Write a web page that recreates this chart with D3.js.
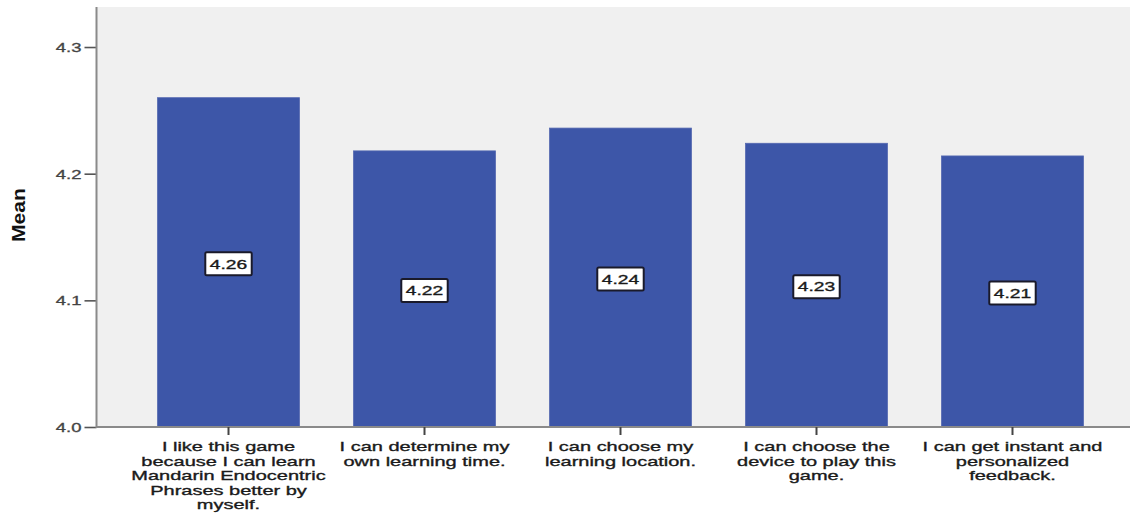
<!DOCTYPE html>
<html>
<head>
<meta charset="utf-8">
<script src="https://cdn.jsdelivr.net/npm/d3@7"></script>
<style>
  html, body { margin: 0; padding: 0; background: #fff; }
  svg { display: block; }
  text { font-family: "Liberation Sans", Arial, sans-serif; }
</style>
</head>
<body>
<svg id="chart" width="1130" height="515"></svg>
<script>
const categories = [
  "I like this game because I can learn Mandarin Endocentric Phrases better by myself.",
  "I can determine my own learning time.",
  "I can choose my learning location.",
  "I can choose the device to play this game.",
  "I can get instant and personalized feedback."
];
const categoryLines = [
  ["I like this game", "because I can learn", "Mandarin Endocentric", "Phrases better by", "myself."],
  ["I can determine my", "own learning time."],
  ["I can choose my", "learning location."],
  ["I can choose the", "device to play this", "game."],
  ["I can get instant and", "personalized", "feedback."]
];
const meanValues = [4.260, 4.218, 4.236, 4.224, 4.214];
const valueLabels = ["4.26", "4.22", "4.24", "4.23", "4.21"];
const yTicks = [4.0, 4.1, 4.2, 4.3];
const yTickLabels = ["4.0", "4.1", "4.2", "4.3"];
const yAxisTitle = "Mean";

const svg = d3.select("#chart");
const plotLeft = 96.5, plotTop = 7, plotBottom = 427, plotRight = 1144.5;
const SX = 1.48; // horizontal text stretch of the original

const y = d3.scaleLinear().domain([4.0, 4.3316]).range([plotBottom, plotTop]);
const x = d3.scaleBand().domain(categories).range([plotLeft, plotRight])
  .paddingInner(0.276).paddingOuter(0.3115);

// plot background
svg.append("rect")
  .attr("x", plotLeft).attr("y", plotTop)
  .attr("width", plotRight - plotLeft).attr("height", plotBottom - plotTop)
  .attr("fill", "#f0f0f0");

// bars
svg.selectAll("rect.bar").data(meanValues).join("rect")
  .attr("class", "bar")
  .attr("x", (d, i) => x(categories[i]))
  .attr("y", d => y(d))
  .attr("width", x.bandwidth())
  .attr("height", d => y(4.0) - y(d))
  .attr("fill", "#3d56a8")
  .attr("stroke", "#5468b0")
  .attr("stroke-width", 0.8);

// y axis
const yAxis = d3.axisLeft(y).tickValues(yTicks)
  .tickFormat((d, i) => yTickLabels[i]).tickSize(12).tickPadding(3);
const gy = svg.append("g").attr("transform", `translate(${plotLeft},0)`).call(yAxis);
gy.select(".domain").remove();
gy.selectAll(".tick line").attr("stroke", "#555").attr("stroke-width", 1.6);
gy.selectAll(".tick text")
  .attr("x", null).attr("dy", null)
  .attr("font-size", "12.5px").attr("fill", "#444")
  .attr("stroke", "#444").attr("stroke-width", 0.3)
  .attr("text-anchor", "end")
  .attr("dominant-baseline", "central")
  .attr("transform", `translate(-15,0) scale(${SX},1)`);

// axis lines
svg.append("line")
  .attr("x1", plotLeft).attr("x2", plotLeft)
  .attr("y1", plotTop).attr("y2", plotBottom + 1)
  .attr("stroke", "#8a8a8a").attr("stroke-width", 2);
svg.append("line")
  .attr("x1", plotLeft).attr("x2", 1130)
  .attr("y1", plotBottom).attr("y2", plotBottom)
  .attr("stroke", "#8a8a8a").attr("stroke-width", 2);

// x axis ticks
const xAxis = d3.axisBottom(x).tickSize(8).tickFormat("");
const gx = svg.append("g").attr("transform", `translate(0,${plotBottom})`).call(xAxis);
gx.select(".domain").remove();
gx.selectAll(".tick line").attr("stroke", "#444").attr("stroke-width", 2);

// category labels
const lineH = 14.6, firstBase = 451;
categories.forEach((c, i) => {
  const cx = x(c) + x.bandwidth() / 2;
  const g = svg.append("g").attr("transform", `translate(${cx},0) scale(${SX},1)`);
  categoryLines[i].forEach((ln, j) => {
    g.append("text")
      .attr("x", 0).attr("y", firstBase + j * lineH)
      .attr("text-anchor", "middle")
      .attr("font-size", "13.5px")
      .attr("fill", "#1a1a1a")
      .attr("stroke", "#1a1a1a").attr("stroke-width", 0.35)
      .text(ln);
  });
});

// value labels
meanValues.forEach((v, i) => {
  const cx = x(categories[i]) + x.bandwidth() / 2;
  const cy = (y(v) + y(4.0)) / 2 + 1.5;
  const g = svg.append("g");
  const rect = g.append("rect");
  const t = g.append("text")
    .attr("text-anchor", "middle")
    .attr("dominant-baseline", "central")
    .attr("font-size", "13px")
    .attr("fill", "#1a1a1a")
    .attr("stroke", "#1a1a1a").attr("stroke-width", 0.35)
    .attr("transform", `translate(${cx},${cy}) scale(${SX},1)`)
    .text(valueLabels[i]);
  const w = t.node().getComputedTextLength() * SX + 9;
  const h = 23;
  rect.attr("x", cx - w / 2).attr("y", cy - h / 2)
    .attr("width", w).attr("height", h)
    .attr("rx", 1.5)
    .attr("fill", "#fff").attr("stroke", "#1a1a2a").attr("stroke-width", 2);
});

// y axis title
svg.append("text")
  .attr("transform", "translate(25,215) rotate(-90)")
  .attr("text-anchor", "middle")
  .attr("font-size", "18px")
  .attr("font-weight", "bold")
  .attr("fill", "#111")
  .attr("textLength", 54)
  .attr("lengthAdjust", "spacingAndGlyphs")
  .text(yAxisTitle);
</script>
</body>
</html>
